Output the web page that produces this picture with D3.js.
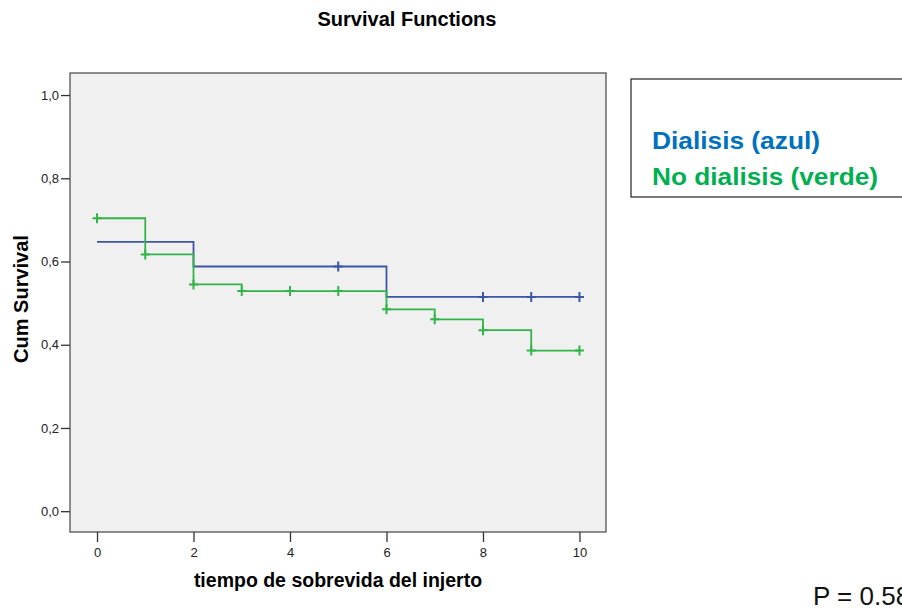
<!DOCTYPE html>
<html lang="en">
<head>
    <meta charset="UTF-8">
    <title>Survival Functions</title>
    <script src="https://cdnjs.cloudflare.com/ajax/libs/d3/7.8.5/d3.min.js"></script>
    <style>
        body { margin: 0; background: #fff; }
        svg { display: block; font-family: "Liberation Sans", Arial, sans-serif; }
    </style>
</head>
<body>
<svg width="902" height="609"></svg>
<script>
    // survival steps
    const xTicks = [0, 2, 4, 6, 8, 10];
    const yTicks = [0, 0.2, 0.4, 0.6, 0.8, 1.0];

    const dialisisTimes = [0, 2, 6];
    const dialisisSurvival = [0.647, 0.588, 0.515];
    const dialisisCensored = [5, 8, 9, 10];

    const noDialisisTimes = [0, 1, 2, 3, 6, 7, 8, 9];
    const noDialisisSurvival = [0.704, 0.617, 0.545, 0.529, 0.485, 0.461, 0.435, 0.386];
    const noDialisisCensored = [0, 1, 2, 3, 4, 5, 6, 7, 8, 9, 10];

    const endTime = 10;

    const svg = d3.select("svg");
    const plot = { left: 70, right: 606, top: 73, bottom: 532 };

    const x = d3.scaleLinear().domain([-0.56, 10.55]).range([plot.left, plot.right]);
    const y = d3.scaleLinear().domain([-0.05, 1.053]).range([plot.bottom, plot.top]);

    svg.append("rect")
        .attr("x", plot.left).attr("y", plot.top)
        .attr("width", plot.right - plot.left).attr("height", plot.bottom - plot.top)
        .attr("fill", "#f0f0f0").attr("stroke", "#444").attr("stroke-width", 1.2);

    const fmt = d => d3.format(".1f")(d).replace(".", ",");

    const yAxis = svg.append("g")
        .attr("transform", `translate(${plot.left},0)`)
        .call(d3.axisLeft(y).tickValues(yTicks).tickFormat(fmt).tickSize(9).tickPadding(2));
    const xAxis = svg.append("g")
        .attr("transform", `translate(0,${plot.bottom})`)
        .call(d3.axisBottom(x).tickValues(xTicks).tickSize(10).tickPadding(6));

    [xAxis, yAxis].forEach(g => {
        g.attr("font-size", 13).attr("font-family", "'Liberation Sans', Arial, sans-serif");
        g.select(".domain").remove();
        g.selectAll(".tick line").attr("stroke", "#333").attr("stroke-width", 1.3);
        g.selectAll(".tick text").attr("fill", "#222");
    });

    function stepValue(times, values, t) {
        let v = values[0];
        times.forEach((tt, i) => { if (tt <= t) v = values[i]; });
        return v;
    }

    function drawCurve(times, values, censored, color) {
        const pts = times.map((t, i) => [t, values[i]]);
        pts.push([endTime, values[values.length - 1]]);
        const line = d3.line().x(d => x(d[0])).y(d => y(d[1])).curve(d3.curveStepAfter);
        svg.append("path")
            .attr("d", line(pts))
            .attr("fill", "none").attr("stroke", color).attr("stroke-width", 1.8);

        const marks = svg.append("g");
        censored.forEach(t => {
            const cx = x(t), cy = y(stepValue(times, values, t));
            marks.append("path")
                .attr("d", `M${cx - 4.5},${cy}H${cx + 4.5}M${cx},${cy - 5}V${cy + 5}`)
                .attr("stroke", color).attr("stroke-width", 2);
        });
    }

    drawCurve(dialisisTimes, dialisisSurvival, dialisisCensored, "#3c56a6");
    drawCurve(noDialisisTimes, noDialisisSurvival, noDialisisCensored, "#33b44a");

    svg.append("text")
        .attr("x", 407).attr("y", 26)
        .attr("text-anchor", "middle")
        .style("font-size", "20px").style("font-weight", "bold")
        .text("Survival Functions");

    svg.append("text")
        .attr("x", 338).attr("y", 587)
        .attr("text-anchor", "middle")
        .style("font-size", "19.5px").style("font-weight", "bold")
        .text("tiempo de sobrevida del injerto");

    svg.append("text")
        .attr("transform", "translate(28,299) rotate(-90)")
        .attr("text-anchor", "middle")
        .style("font-size", "20px").style("font-weight", "bold")
        .text("Cum Survival");

    // legend box (runs off the right edge)
    svg.append("rect")
        .attr("x", 631).attr("y", 79).attr("width", 300).attr("height", 118)
        .attr("fill", "#fff").attr("stroke", "#222").attr("stroke-width", 1.2);

    svg.append("text")
        .attr("x", 652).attr("y", 149)
        .attr("fill", "#0070c0")
        .style("font-size", "24px").style("font-weight", "bold")
        .attr("textLength", 168).attr("lengthAdjust", "spacingAndGlyphs")
        .text("Dialisis (azul)");

    svg.append("text")
        .attr("x", 652).attr("y", 185)
        .attr("fill", "#00b050")
        .style("font-size", "24px").style("font-weight", "bold")
        .attr("textLength", 226).attr("lengthAdjust", "spacingAndGlyphs")
        .text("No dialisis (verde)");

    svg.append("text")
        .attr("x", 813).attr("y", 605)
        .attr("fill", "#111")
        .style("font-size", "26px")
        .text("P = 0.58");
</script>
</body>
</html>
